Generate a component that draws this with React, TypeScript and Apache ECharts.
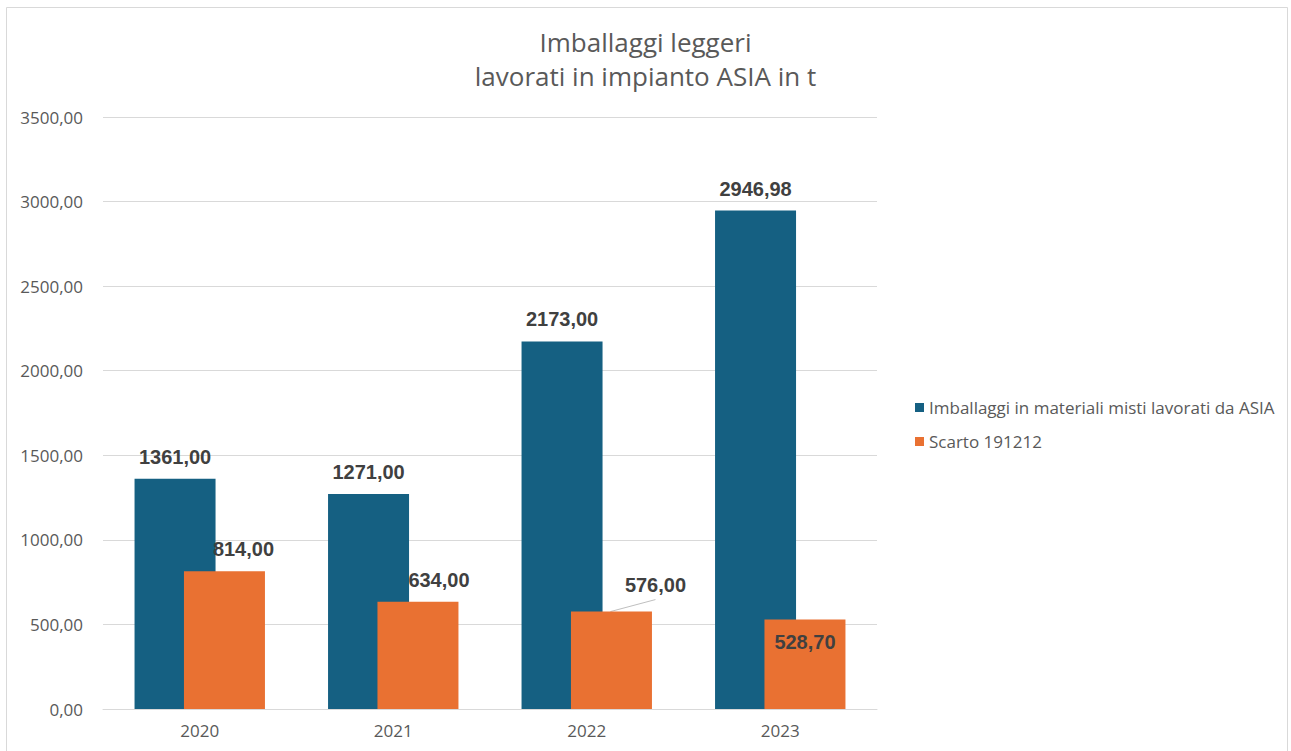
import React, { useEffect, useRef } from "react";
import * as echarts from "echarts";

const years = ["2020", "2021", "2022", "2023"];
const imballaggi = [1361, 1271, 2173, 2946.98];
const scarto = [814, 634, 576, 528.7];
const seriesNames = [
  "Imballaggi in materiali misti lavorati da ASIA",
  "Scarto 191212",
];
const titleLines = ["Imballaggi leggeri", "lavorati in impianto ASIA in t"];

const fmt = (v: number) => v.toFixed(2).replace(".", ",");
const SANS = "'Open Sans', 'Liberation Sans', sans-serif";
const LABEL_FONT = "'Liberation Sans', Arial, sans-serif";

export default function App() {
  const ref = useRef<HTMLDivElement>(null);
  useEffect(() => {
    if (!ref.current) return;
    const chart = echarts.init(ref.current, undefined, { renderer: "svg" });
    const labelBase = {
      show: true,
      position: "top" as const,
      distance: 12,
      color: "#404040",
      fontFamily: LABEL_FONT,
      fontWeight: "bold" as const,
      fontSize: 20,
      formatter: (p: any) => fmt(p.value),
    };
    // label shifts for the orange series (style only, per category index)
    const orangeShift: Array<{ dx: number; dy: number }> = [
      { dx: 19, dy: 0 },
      { dx: 21, dy: 0 },
      { dx: 44, dy: -5 },
      { dx: 0, dy: 0 },
    ];
    const frame = {
      type: "rect",
      id: "frame",
      shape: { x: 6.5, y: 7.5, width: 1281, height: 760 },
      style: { fill: "none", stroke: "#d9d9d9", lineWidth: 1 },
      silent: true,
    };
    chart.setOption({
      animation: false,
      backgroundColor: "#ffffff",
      title: {
        text: titleLines.join("\n"),
        left: "center",
        top: 20,
        textStyle: {
          fontFamily: SANS,
          fontWeight: "normal",
          fontSize: 26,
          color: "#595959",
          lineHeight: 34,
        },
      },
      legend: {
        orient: "vertical",
        left: 910,
        top: 394,
        itemWidth: 9,
        itemHeight: 9,
        itemGap: 17,
        icon: "rect",
        textStyle: {
          fontFamily: SANS,
          fontSize: 17,
          color: "#595959",
        },
        data: seriesNames,
      },
      graphic: [frame],
      grid: { left: 103, right: 414, top: 117, bottom: 42, containLabel: false },
      xAxis: {
        type: "category",
        data: years,
        axisTick: { show: false },
        axisLine: { lineStyle: { color: "#d9d9d9", width: 1 } },
        axisLabel: {
          margin: 13,
          fontFamily: SANS,
          fontSize: 17,
          color: "#595959",
        },
      },
      yAxis: {
        type: "value",
        min: 0,
        max: 3500,
        interval: 500,
        axisLine: { show: false },
        axisTick: { show: false },
        splitLine: { lineStyle: { color: "#d9d9d9", width: 1 } },
        axisLabel: {
          margin: 20,
          fontFamily: SANS,
          fontSize: 17,
          color: "#595959",
          formatter: (v: number) => fmt(v),
        },
      },
      series: [
        {
          name: seriesNames[0],
          type: "bar",
          barWidth: 81,
          barGap: "-39%",
          itemStyle: { color: "#156082" },
          label: labelBase,
          data: imballaggi,
        },
        {
          name: seriesNames[1],
          type: "bar",
          barWidth: 81,
          barGap: "-39%",
          itemStyle: { color: "#E97132" },
          label: labelBase,
          labelLayout: (params: any) => orangeShift[params.dataIndex] || {},
          data: scarto.map((v, i) => ({
            value: v,
            label: i === 3 ? { position: "insideTop", distance: 12 } : {},
          })),
        },
      ],
    });
    // leader line for the shifted 2022 label, anchored on the bar's own layout
    try {
      const data = (chart as any).getModel().getSeriesByIndex(1).getData();
      const lay = data.getItemLayout(2);
      if (lay) {
        const topY = Math.min(lay.y, lay.y + lay.height);
        const cx = lay.x + lay.width / 2;
        chart.setOption({
          graphic: [
            frame,
            {
              type: "line",
              id: "leader",
              shape: { x1: cx - 1, y1: topY, x2: cx + 44, y2: topY - 12 },
              style: { stroke: "#bfbfbf", lineWidth: 1 },
              silent: true,
            },
          ],
        });
      }
    } catch (e) {
      // ignore
    }
    return () => chart.dispose();
  }, []);
  return (
    <div
      ref={ref}
      style={{ position: "fixed", left: 0, top: 0, width: 1291, height: 751 }}
    />
  );
}
